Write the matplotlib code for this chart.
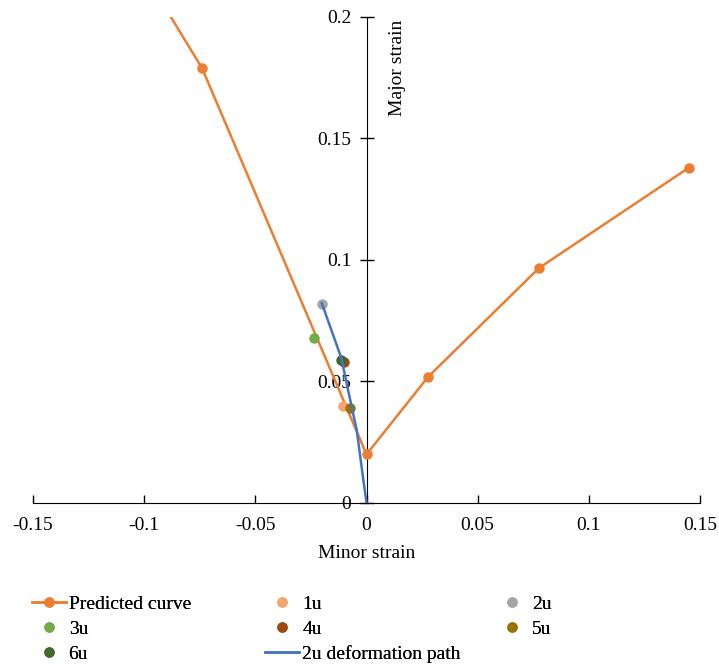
import numpy as np
import matplotlib
matplotlib.use("Agg")
import matplotlib.pyplot as plt

plt.rcParams['font.family'] = ['Liberation Serif', 'DejaVu Serif']
plt.rcParams['font.size'] = 14

# predicted forming limit curve (first point lies above the plot, clipped)
pred_x = [-0.100, -0.074, 0.0, 0.0277, 0.0776, 0.145]
pred_y = [0.218, 0.179, 0.020, 0.0519, 0.0967, 0.138]

# measured failure points
samples = ['1u', '2u', '3u', '4u', '5u', '6u']
samp_x = [-0.0107, -0.0201, -0.0236, -0.0100, -0.0074, -0.0115]
samp_y = [0.0398, 0.0819, 0.0677, 0.0580, 0.0390, 0.0590]
samp_col = ['#F4A46C', '#A5A5A5', '#70AD47', '#9E480E', '#997300', '#43682B']

# strain path of sample 2u
path_x = [-0.0201, -0.0113, -0.0083, -0.0044, -0.0016, 0.0]
path_y = [0.0822, 0.0596, 0.0465, 0.0300, 0.0107, 0.0]

xticks = [-0.15, -0.1, -0.05, 0, 0.05, 0.1, 0.15]
yticks = [0, 0.05, 0.1, 0.15, 0.2]

fig = plt.figure(figsize=(7.19, 6.71), dpi=100)
ax = fig.add_axes([0.0459, 0.2504, 0.9277, 0.7243])

h_pred, = ax.plot(pred_x, pred_y, color='#ED7D31', lw=1.8, marker='o', ms=6.5,
                  label='Predicted curve', zorder=3)
handles = {}
for s, x, y, c in zip(samples, samp_x, samp_y, samp_col):
    handles[s], = ax.plot([x], [y], ls='none', marker='o', ms=6.5, color=c, label=s, zorder=4)
h_path, = ax.plot(path_x, path_y, color='#4472C4', lw=1.8, label='2u deformation path', zorder=5)

ax.set_xlim(-0.15, 0.15)
ax.set_ylim(0, 0.2)
ax.spines['left'].set_position(('data', 0))
ax.spines['top'].set_visible(False)
ax.spines['right'].set_visible(False)
ax.set_xticks(xticks)
ax.set_xticklabels(['-0.15', '-0.1', '-0.05', '0', '0.05', '0.1', '0.15'])
ax.set_yticks(yticks)
ax.set_yticklabels(['0', '0.05', '0.1', '0.15', '0.2'])
ax.tick_params(axis='x', direction='in', length=6, width=1, pad=10)
ax.tick_params(axis='y', direction='inout', length=10, width=1, pad=6)

ax.text(0.0138, 0.199, 'Major strain', rotation=90, ha='center', va='top')
ax.set_xlabel('Minor strain', labelpad=8)

# legend: three columns placed by hand
columns = [[h_pred, handles['3u'], handles['6u']],
           [handles['1u'], handles['4u'], h_path],
           [handles['2u'], handles['5u']]]
col_x = [0.044, 0.369, 0.689]
for hs, x0 in zip(columns, col_x):
    leg = fig.legend(hs, [h.get_label() for h in hs], loc='upper left',
                     bbox_to_anchor=(x0, 0.113), frameon=False, handlelength=1.75,
                     handletextpad=0.15, labelspacing=0.38, borderaxespad=0, borderpad=0)
    fig.add_artist(leg)

fig.savefig('out.png', dpi=100)
